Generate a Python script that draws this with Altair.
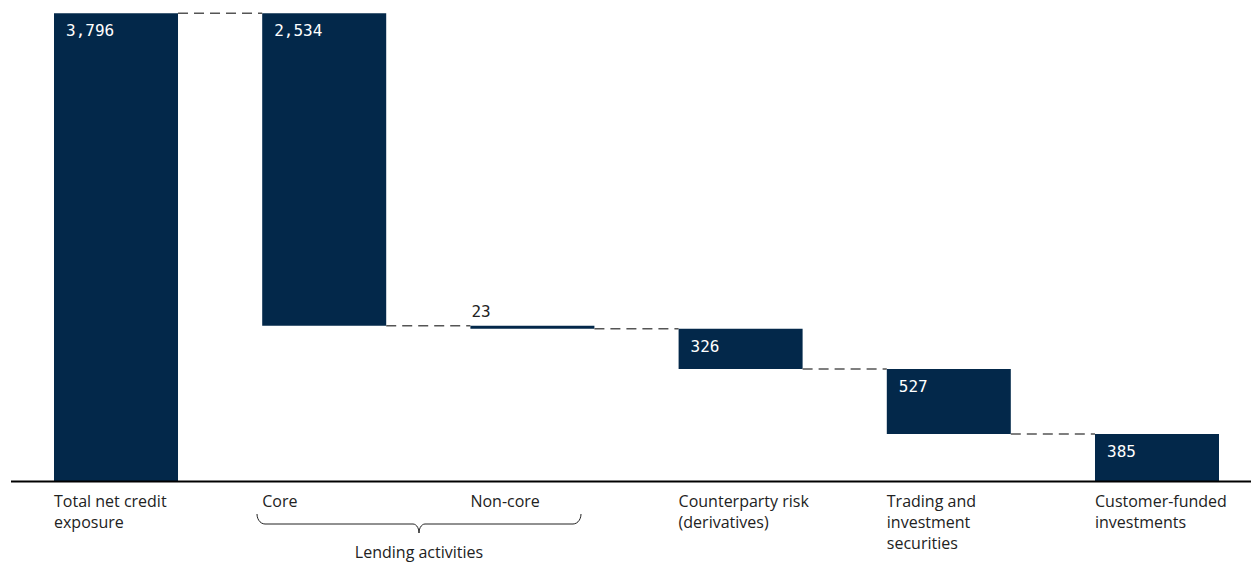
import altair as alt
import pandas as pd
import numpy as np

# ---- data ----
categories = ["Total net credit exposure", "Core", "Non-core",
              "Counterparty risk (derivatives)", "Trading and investment securities",
              "Customer-funded investments"]
axis_labels = ["Total net credit\nexposure", "Core", "Non-core",
               "Counterparty risk\n(derivatives)", "Trading and\ninvestment\nsecurities",
               "Customer-funded\ninvestments"]
values = [3796, 2534, 23, 326, 527, 385]
value_labels = ["3,796", "2,534", "23", "326", "527", "385"]
group_label = "Lending activities"

# ---- layout ----
W, H = 1251, 563
XD = [-0.5572, 5.4515]
YD = [-660.8, 3903.8]
HALF = 0.2978
BAR = "#03284a"
FONT_LBL = "Open Sans"
FONT_VAL = "DejaVu Sans Mono"
TXT = "#222222"

def px_to_x(px):
    return XD[0] + px / W * (XD[1] - XD[0])

def py_to_y(py):
    return YD[1] - py / H * (YD[1] - YD[0])

# waterfall geometry
tops, bottoms = [], []
running = 0
for i, v in enumerate(values):
    if i == 0:
        tops.append(v); bottoms.append(0); running = v
    else:
        tops.append(running); bottoms.append(running - v); running -= v

bars = pd.DataFrame({
    "cat": categories, "idx": list(range(len(values))),
    "top": tops, "bottom": bottoms, "label": value_labels,
    "axlabel": axis_labels, "value": values,
})
bars["left"] = bars["idx"] - HALF
bars["right"] = bars["idx"] + HALF

conn = pd.DataFrame({
    "x": [i + HALF for i in range(len(values) - 1)],
    "x2": [i + 1 - HALF for i in range(len(values) - 1)],
    "y": [tops[i + 1] for i in range(len(values) - 1)],
})

xs = alt.Scale(domain=XD, nice=False, zero=False)
ys = alt.Scale(domain=YD, nice=False, zero=False)

base = alt.Chart(bars)

bar_layer = base.mark_rect(color=BAR).encode(
    x=alt.X("left:Q", scale=xs, axis=None),
    x2="right:Q",
    y=alt.Y("top:Q", scale=ys, axis=None),
    y2="bottom:Q",
)

conn_layer = alt.Chart(conn).mark_rule(
    color="#555555", strokeWidth=1.5, strokeDash=[10, 6]
).encode(
    x=alt.X("x:Q", scale=xs, axis=None), x2="x2:Q",
    y=alt.Y("y:Q", scale=ys, axis=None),
)

axis_rule = alt.Chart(pd.DataFrame({"y": [0]})).mark_rule(
    color="#000000", strokeWidth=2
).encode(
    x=alt.value(11), x2=alt.value(W),
    y=alt.Y("y:Q", scale=ys, axis=None),
)

inside = base.transform_filter("datum.value >= 100").mark_text(
    align="left", baseline="middle", dx=12, dy=18,
    color="white", font=FONT_VAL, fontSize=16,
).encode(
    x=alt.X("left:Q", scale=xs, axis=None),
    y=alt.Y("top:Q", scale=ys, axis=None),
    text="label:N",
)

outside = base.transform_filter("datum.value < 100").mark_text(
    align="left", baseline="middle", dx=1, dy=-14,
    color=TXT, font=FONT_VAL, fontSize=16,
).encode(
    x=alt.X("left:Q", scale=xs, axis=None),
    y=alt.Y("top:Q", scale=ys, axis=None),
    text="label:N",
)

cat_text = base.mark_text(
    align="left", baseline="top", lineBreak="\n", lineHeight=21,
    color=TXT, font=FONT_LBL, fontSize=16,
).encode(
    x=alt.X("left:Q", scale=xs, axis=None),
    y=alt.value(494),
    text="axlabel:N",
)

# brace under Core / Non-core
xl, xr = 257.0, 581.0
xc = (xl + xr) / 2
r = 8.0
t = np.linspace(0, np.pi / 2, 8)
pts = []
pts += [(xl + r * (1 - np.cos(a)), 514 + 10 * np.sin(a)) for a in t]
pts += [(xc - 6 + 6 * np.sin(a), 524 + 9 * (1 - np.cos(a))) for a in t]
pts += [(xc + 6 - 6 * np.sin(a), 524 + 9 * (1 - np.cos(a))) for a in t[::-1]]
pts += [(xr - r * (1 - np.cos(a)), 514 + 10 * np.sin(a)) for a in t[::-1]]
brace = pd.DataFrame({
    "bx": [px_to_x(p[0]) for p in pts],
    "by": [py_to_y(p[1]) for p in pts],
    "o": list(range(len(pts))),
})
brace_layer = alt.Chart(brace).mark_line(color=TXT, strokeWidth=1).encode(
    x=alt.X("bx:Q", scale=xs, axis=None),
    y=alt.Y("by:Q", scale=ys, axis=None),
    order="o:Q",
)

group_text = alt.Chart(pd.DataFrame({"t": [group_label], "x": [px_to_x(xc)]})).mark_text(
    align="center", baseline="alphabetic", color=TXT, font=FONT_LBL, fontSize=16,
).encode(
    x=alt.X("x:Q", scale=xs, axis=None),
    y=alt.value(558),
    text="t:N",
)

chart = alt.layer(
    bar_layer, conn_layer, axis_rule, inside, outside, cat_text, brace_layer, group_text
).properties(
    width=W, height=H, autosize=alt.AutoSizeParams(type="none"), padding=0,
    background="white",
).configure_view(stroke=None)

chart.save("out.html", embed_options={"renderer": "svg", "actions": False})
